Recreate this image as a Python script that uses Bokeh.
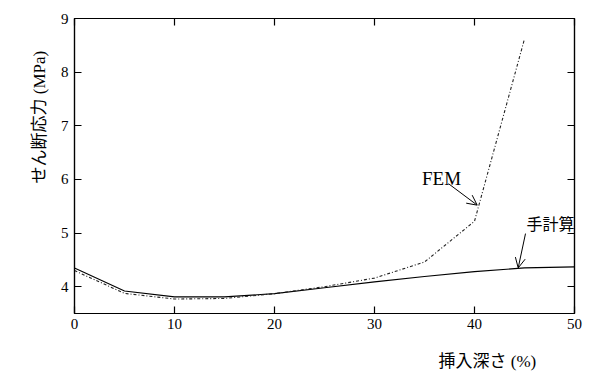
import math
from bokeh.plotting import figure
from bokeh.models import Range1d, FixedTicker, LinearAxis, Label, Arrow, OpenHead, Title
from bokeh.embed import file_html
from bokeh.resources import INLINE

# data
depth_hand = [0, 5, 10, 15, 20, 25, 30, 35, 40, 45, 50]
stress_hand = [4.35, 3.92, 3.81, 3.81, 3.87, 3.98, 4.09, 4.19, 4.28, 4.35, 4.37]
depth_fem = [0, 5, 10, 15, 20, 25, 30, 35, 40, 45]
stress_fem = [4.30, 3.875, 3.77, 3.78, 3.87, 4.00, 4.16, 4.46, 5.22, 8.62]
x_ticks = [0, 10, 20, 30, 40, 50]
y_ticks = [4, 5, 6, 7, 8, 9]
label_fem = "FEM"
label_hand = "手計算"
x_title = "挿入深さ (%)"
y_title = "せん断応力 (MPa)"

SERIF = "Liberation Serif"
CJK = "Noto Sans CJK JP"
MIX = "Liberation Serif, Noto Sans CJK JP"

p = figure(width=601, height=389, x_range=Range1d(0, 50), y_range=Range1d(3.5, 9),
           output_backend="svg", toolbar_location=None,
           min_border_left=74, min_border_right=27, min_border_top=18, min_border_bottom=76)
p.background_fill_color = "white"
p.border_fill_color = "white"
p.outline_line_color = "black"
p.outline_line_width = 1.2
p.xgrid.grid_line_color = None
p.ygrid.grid_line_color = None

p.add_layout(LinearAxis(), "above")
p.add_layout(LinearAxis(), "right")

for ax in p.xaxis:
    ax.ticker = FixedTicker(ticks=x_ticks)
for ax in p.yaxis:
    ax.ticker = FixedTicker(ticks=y_ticks)

for ax in p.xaxis + p.yaxis:
    ax.axis_line_color = "black"
    ax.axis_line_width = 1.2
    ax.major_tick_line_color = "black"
    ax.major_tick_line_width = 1.2
    ax.major_tick_in = 7
    ax.major_tick_out = 0
    ax.minor_tick_line_color = None
    ax.major_label_text_font = SERIF
    ax.major_label_text_font_size = "15px"
    ax.major_label_text_color = "black"

p.below[0].major_label_standoff = 5
p.left[0].major_label_standoff = 6
for ax in (p.above[0], p.right[0]):
    ax.major_label_text_color = None
    ax.major_label_standoff = 0

p.line(depth_hand, stress_hand, line_color="black", line_width=1.1)
p.line(depth_fem, stress_fem, line_color="#222222", line_width=1.1, line_dash="3 2 1 2")

p.add_layout(Label(x=36.7, y=6.02, text=label_fem, text_font=SERIF, text_font_size="19px",
                   text_align="center", text_baseline="middle", text_color="black"))
p.add_layout(Arrow(x_start=37.4, y_start=5.92, x_end=40.27, y_end=5.52,
                   line_color="black", line_width=1,
                   end=OpenHead(size=10, line_color="black", line_width=1)))

p.add_layout(Label(x=45.2, y=5.18, text=label_hand, text_font=CJK, text_font_size="16px",
                   text_align="left", text_baseline="middle", text_color="black"))
p.add_layout(Arrow(x_start=45.1, y_start=4.99, x_end=44.37, y_end=4.35,
                   line_color="black", line_width=1,
                   end=OpenHead(size=10, line_color="black", line_width=1)))

p.add_layout(Title(text=x_title, text_font=MIX, text_font_size="17px", text_font_style="normal",
                   text_color="black", align="left", offset=364, standoff=37), "below")
p.add_layout(Title(text=y_title, text_font=MIX, text_font_size="17px", text_font_style="normal",
                   text_color="black", align="left", offset=130, standoff=17), "left")

open("out.html", "w").write(file_html(p, INLINE))
